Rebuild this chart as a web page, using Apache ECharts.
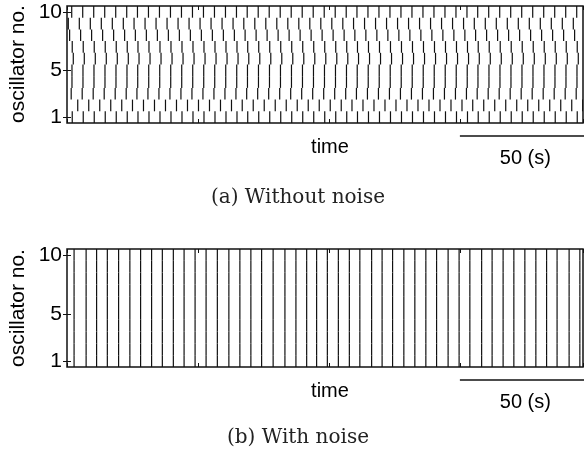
<!DOCTYPE html>
<html>
<head>
<meta charset="utf-8">
<title>Spike rasters</title>
<script src="https://cdn.jsdelivr.net/npm/echarts@6/dist/echarts.min.js"></script>
<style>
  html, body { margin: 0; padding: 0; background: #fff; }
  #chart { width: 584px; height: 452px; }
</style>
</head>
<body>
<div id="chart"></div>
<script>
// Time axis (s) and oscillator indices
const timeMin = 0;
const timeMax = 197;
const timeTickStep = 50;
const oscillatorTicks = [1, 5, 10];
const scaleBarSpan = [150, 200];
const scaleBarLabel = '50 (s)';

// (a) without noise: spike times (s) of each oscillator, no. 1 .. 10
const spikesOsc1  = [2.0, 6.2, 10.4, 14.6, 18.8, 23.0, 27.1, 31.3, 35.5, 39.7, 43.9, 48.1, 52.3, 56.5, 60.7, 64.9, 69.0, 73.2, 77.4, 81.6, 85.8, 90.0, 94.2, 98.4, 102.6, 106.8, 110.9, 115.1, 119.3, 123.5, 127.7, 131.9, 136.1, 140.3, 144.5, 148.7, 152.9, 157.0, 161.2, 165.4, 169.6, 173.8, 178.0, 182.2, 186.4, 190.6, 194.8];
const spikesOsc2  = [4.1, 8.3, 12.5, 16.7, 20.9, 25.0, 29.2, 33.4, 37.6, 41.8, 46.0, 50.2, 54.4, 58.6, 62.8, 66.9, 71.1, 75.3, 79.5, 83.7, 87.9, 92.1, 96.3, 100.5, 104.7, 108.8, 113.0, 117.2, 121.4, 125.6, 129.8, 134.0, 138.2, 142.4, 146.6, 150.8, 154.9, 159.1, 163.3, 167.5, 171.7, 175.9, 180.1, 184.3, 188.5, 192.7, 196.9];
const spikesOsc3  = [1.6, 5.8, 10.0, 14.2, 18.4, 22.6, 26.7, 30.9, 35.1, 39.3, 43.5, 47.7, 51.9, 56.1, 60.3, 64.5, 68.6, 72.8, 77.0, 81.2, 85.4, 89.6, 93.8, 98.0, 102.2, 106.4, 110.5, 114.7, 118.9, 123.1, 127.3, 131.5, 135.7, 139.9, 144.1, 148.3, 152.5, 156.6, 160.8, 165.0, 169.2, 173.4, 177.6, 181.8, 186.0, 190.2, 194.4];
const spikesOsc4  = [1.9, 6.1, 10.3, 14.5, 18.7, 22.9, 27.0, 31.2, 35.4, 39.6, 43.8, 48.0, 52.2, 56.4, 60.6, 64.8, 68.9, 73.1, 77.3, 81.5, 85.7, 89.9, 94.1, 98.3, 102.5, 106.7, 110.8, 115.0, 119.2, 123.4, 127.6, 131.8, 136.0, 140.2, 144.4, 148.6, 152.8, 156.9, 161.1, 165.3, 169.5, 173.7, 177.9, 182.1, 186.3, 190.5, 194.7];
const spikesOsc5  = [1.9, 6.1, 10.3, 14.5, 18.7, 22.9, 27.0, 31.2, 35.4, 39.6, 43.8, 48.0, 52.2, 56.4, 60.6, 64.8, 68.9, 73.1, 77.3, 81.5, 85.7, 89.9, 94.1, 98.3, 102.5, 106.7, 110.8, 115.0, 119.2, 123.4, 127.6, 131.8, 136.0, 140.2, 144.4, 148.6, 152.8, 156.9, 161.1, 165.3, 169.5, 173.7, 177.9, 182.1, 186.3, 190.5, 194.7];
const spikesOsc6  = [2.4, 6.6, 10.8, 15.0, 19.2, 23.4, 27.5, 31.7, 35.9, 40.1, 44.3, 48.5, 52.7, 56.9, 61.1, 65.3, 69.4, 73.6, 77.8, 82.0, 86.2, 90.4, 94.6, 98.8, 103.0, 107.2, 111.3, 115.5, 119.7, 123.9, 128.1, 132.3, 136.5, 140.7, 144.9, 149.1, 153.3, 157.4, 161.6, 165.8, 170.0, 174.2, 178.4, 182.6, 186.8, 191.0, 195.2];
const spikesOsc7  = [2.0, 6.2, 10.4, 14.6, 18.8, 23.0, 27.1, 31.3, 35.5, 39.7, 43.9, 48.1, 52.3, 56.5, 60.7, 64.9, 69.0, 73.2, 77.4, 81.6, 85.8, 90.0, 94.2, 98.4, 102.6, 106.8, 110.9, 115.1, 119.3, 123.5, 127.7, 131.9, 136.1, 140.3, 144.5, 148.7, 152.9, 157.0, 161.2, 165.4, 169.6, 173.8, 178.0, 182.2, 186.4, 190.6, 194.8];
const spikesOsc8  = [1.0, 5.2, 9.4, 13.6, 17.8, 22.0, 26.1, 30.3, 34.5, 38.7, 42.9, 47.1, 51.3, 55.5, 59.7, 63.9, 68.0, 72.2, 76.4, 80.6, 84.8, 89.0, 93.2, 97.4, 101.6, 105.8, 109.9, 114.1, 118.3, 122.5, 126.7, 130.9, 135.1, 139.3, 143.5, 147.7, 151.9, 156.0, 160.2, 164.4, 168.6, 172.8, 177.0, 181.2, 185.4, 189.6, 193.8];
const spikesOsc9  = [0.5, 4.7, 8.9, 13.1, 17.3, 21.5, 25.6, 29.8, 34.0, 38.2, 42.4, 46.6, 50.8, 55.0, 59.2, 63.4, 67.5, 71.7, 75.9, 80.1, 84.3, 88.5, 92.7, 96.9, 101.1, 105.3, 109.4, 113.6, 117.8, 122.0, 126.2, 130.4, 134.6, 138.8, 143.0, 147.2, 151.4, 155.5, 159.7, 163.9, 168.1, 172.3, 176.5, 180.7, 184.9, 189.1, 193.3];
const spikesOsc10 = [1.8, 6.0, 10.2, 14.4, 18.6, 22.8, 26.9, 31.1, 35.3, 39.5, 43.7, 47.9, 52.1, 56.3, 60.5, 64.7, 68.8, 73.0, 77.2, 81.4, 85.6, 89.8, 94.0, 98.2, 102.4, 106.6, 110.7, 114.9, 119.1, 123.3, 127.5, 131.7, 135.9, 140.1, 144.3, 148.5, 152.7, 156.8, 161.0, 165.2, 169.4, 173.6, 177.8, 182.0, 186.2, 190.4, 194.6];

// (b) with noise: all ten oscillators fire together at these times (s)
const syncSpikes = [2.7, 7.3, 11.3, 15.4, 19.7, 24.0, 28.1, 32.3, 36.4, 40.6, 44.7, 48.9, 53.1, 57.4, 61.8, 66.0, 70.2, 74.3, 78.7, 83.2, 87.4, 91.5, 95.3, 99.4, 103.6, 107.8, 111.8, 116.3, 120.3, 124.3, 128.6, 132.8, 137.0, 141.1, 145.5, 149.7, 153.8, 158.3, 162.3, 166.5, 170.6, 174.8, 179.0, 183.1, 187.1, 191.7, 195.8];

const oscillatorCount = 10;

const rowsNoNoise = [spikesOsc1, spikesOsc2, spikesOsc3, spikesOsc4, spikesOsc5,
                     spikesOsc6, spikesOsc7, spikesOsc8, spikesOsc9, spikesOsc10];

function rasterPoints(rows) {
  const pts = [];
  rows.forEach((times, i) => times.forEach(t => pts.push([t, i + 1])));
  return pts;
}

const pointsA = rasterPoints(rowsNoNoise);
const pointsB = [];
for (let n = 1; n <= oscillatorCount; n++) {
  syncSpikes.forEach(t => pointsB.push([t, n]));
}

const SANS = '"Liberation Sans", Arial, Helvetica, sans-serif';
const SERIF = '"DejaVu Serif", "Liberation Serif", serif';
const INK = '#111';

// One spike = a vertical dash one oscillator row tall
function renderSpike(params, api) {
  const t = api.value(0), n = api.value(1);
  const a = api.coord([t, n - 0.5]);
  const b = api.coord([t, n + 0.5]);
  return {
    type: 'line',
    shape: { x1: a[0], y1: a[1], x2: b[0], y2: b[1] },
    style: { stroke: INK, lineWidth: 1.2 }
  };
}

// Scale bar hanging below the time axis, with its label underneath
function renderScaleBar(params, api) {
  const a = api.coord([api.value(0), 0.5]);
  const b = api.coord([api.value(1), 0.5]);
  const y = a[1] + 13;
  return {
    type: 'group',
    children: [
      { type: 'line', shape: { x1: a[0], y1: y, x2: b[0], y2: y },
        style: { stroke: INK, lineWidth: 1.6 } },
      { type: 'text', x: (a[0] + b[0]) / 2, y: y + 22,
        style: { text: scaleBarLabel, font: '20px ' + SANS, fill: '#000',
                 align: 'center', verticalAlign: 'middle' } }
    ]
  };
}

function xAxes(gridIndex) {
  const base = {
    type: 'value', gridIndex, min: timeMin, max: timeMax, interval: timeTickStep,
    axisLine: { show: false },
    axisTick: { show: true, inside: true, length: 4, lineStyle: { color: INK, width: 1 } },
    axisLabel: { show: false },
    splitLine: { show: false }
  };
  return [Object.assign({ position: 'bottom' }, base), Object.assign({ position: 'top' }, base)];
}

function yAxes(gridIndex) {
  const base = {
    type: 'value', gridIndex, min: 0.5, max: 10.5,
    axisLine: { show: false },
    axisTick: { show: true, inside: true, length: 4, customValues: oscillatorTicks,
                lineStyle: { color: INK, width: 1 } },
    splitLine: { show: false }
  };
  return [
    Object.assign({ position: 'left', axisLabel: { show: true, customValues: oscillatorTicks,
      margin: 5, color: '#000', fontSize: 21, fontFamily: SANS } }, base),
    Object.assign({ position: 'right', axisLabel: { show: false } }, base)
  ];
}

const gridStyle = { show: true, borderColor: INK, borderWidth: 1.5, backgroundColor: 'transparent' };

const chart = echarts.init(document.getElementById('chart'), null, { renderer: 'canvas' });

chart.setOption({
  animation: false,
  backgroundColor: '#fff',
  grid: [
    Object.assign({ left: 67, top: 6, width: 516, height: 117 }, gridStyle),
    Object.assign({ left: 67, top: 249, width: 516, height: 118 }, gridStyle)
  ],
  xAxis: [].concat(xAxes(0), xAxes(1)),
  yAxis: [].concat(yAxes(0), yAxes(1)),
  series: [
    { type: 'custom', xAxisIndex: 0, yAxisIndex: 0, clip: true,
      renderItem: renderSpike, data: pointsA, encode: { x: 0, y: 1 } },
    { type: 'custom', xAxisIndex: 2, yAxisIndex: 2, clip: true,
      renderItem: renderSpike, data: pointsB, encode: { x: 0, y: 1 } },
    { type: 'custom', xAxisIndex: 0, yAxisIndex: 0, clip: false,
      renderItem: renderScaleBar, data: [[scaleBarSpan[0], scaleBarSpan[1]]], encode: { x: [0, 1] } },
    { type: 'custom', xAxisIndex: 2, yAxisIndex: 2, clip: false,
      renderItem: renderScaleBar, data: [[scaleBarSpan[0], scaleBarSpan[1]]], encode: { x: [0, 1] } }
  ],
  graphic: [
    { type: 'text', x: 18, y: 64, rotation: Math.PI / 2,
      style: { text: 'oscillator no.', font: '21px ' + SANS, fill: '#000', align: 'center', verticalAlign: 'middle' } },
    { type: 'text', x: 18, y: 308, rotation: Math.PI / 2,
      style: { text: 'oscillator no.', font: '21px ' + SANS, fill: '#000', align: 'center', verticalAlign: 'middle' } },
    { type: 'text', x: 330, y: 147,
      style: { text: 'time', font: '20px ' + SANS, fill: '#000', align: 'center', verticalAlign: 'middle' } },
    { type: 'text', x: 330, y: 391,
      style: { text: 'time', font: '20px ' + SANS, fill: '#000', align: 'center', verticalAlign: 'middle' } },
    { type: 'text', x: 298, y: 198,
      style: { text: '(a) Without noise', font: '20px ' + SERIF, fill: '#222', align: 'center', verticalAlign: 'middle' } },
    { type: 'text', x: 298, y: 438,
      style: { text: '(b) With noise', font: '20px ' + SERIF, fill: '#222', align: 'center', verticalAlign: 'middle' } }
  ]
});
</script>
</body>
</html>
